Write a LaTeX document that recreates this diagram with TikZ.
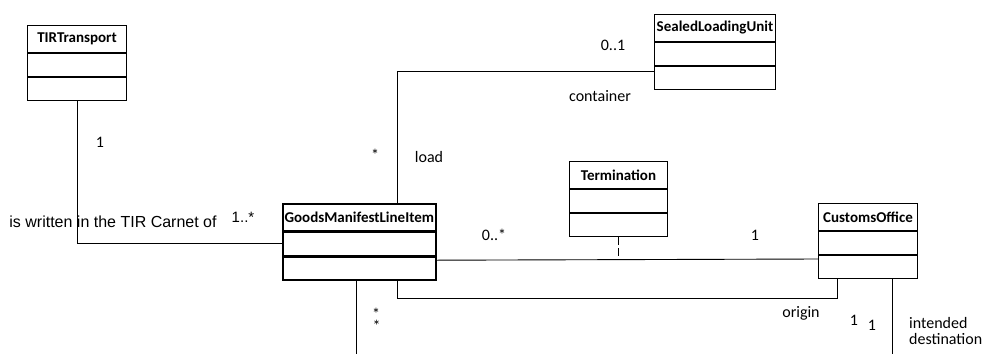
\documentclass[tikz,border=0pt]{standalone}
\usepackage{fontspec}
\setmainfont{Carlito}
\newfontfamily\arialfont{Liberation Sans}
\usetikzlibrary{positioning}

\begin{document}
\begin{tikzpicture}[x=1pt, y=-1pt,
                    umlhead/.style={draw, line width=1pt, minimum width=#1, minimum height=27pt,
                                    inner sep=0pt, anchor=north west, font=\fontsize{15}{18}\selectfont\bfseries},
                    umlpart/.style={draw, line width=1pt, minimum width=#1, minimum height=23pt, inner sep=0pt},
                    heavy/.style={line width=1.6pt},
                    role/.style={inner sep=0pt, font=\fontsize{16}{19}\selectfont},
                    assoc/.style={line width=0.9pt}]
  \useasboundingbox (0,0) rectangle (983,354);
  % classes
  \node[umlhead=99pt] (tir) at (27,25) {TIRTransport};
  \node[umlpart=99pt, below=0pt of tir] (tir1) {};
  \node[umlpart=99pt, below=0pt of tir1] (tir2) {};

  \node[umlhead=121pt] (slu) at (654,14) {SealedLoadingUnit};
  \node[umlpart=121pt, below=0pt of slu] (slu1) {};
  \node[umlpart=121pt, below=0pt of slu1] (slu2) {};

  \node[umlhead=98pt] (term) at (569,161) {Termination};
  \node[umlpart=98pt, below=0pt of term] (term1) {};
  \node[umlpart=98pt, below=0pt of term1] (term2) {};

  \node[umlhead=153pt, heavy] (gml) at (282,203) {GoodsManifestLineItem};
  \node[umlpart=153pt, heavy, below=0pt of gml] (gml1) {};
  \node[umlpart=153pt, heavy, below=0pt of gml1] (gml2) {};

  \node[umlhead=99pt] (co) at (818,203) {CustomsOffice};
  \node[umlpart=99pt, below=0pt of co] (co1) {};
  \node[umlpart=99pt, below=0pt of co1] (co2) {};

  % associations
  \coordinate (gmlout) at (356,354);
  \coordinate (coout) at (892,354);
  \coordinate (main1) at ([yshift=-4pt]gml1.south east);
  \coordinate (main2) at ([yshift=-4pt]co1.south west);

  \draw[assoc] (tir2.south) |- (gml1.west);
  \draw[assoc] ([xshift=115pt]gml.north west) |- ([yshift=-5pt]slu1.south west);
  \draw[assoc] (main1) -- (main2);
  \draw[assoc, line width=1.4pt, dash pattern=on 8pt off 3pt] (term2.south) -- (term2.south |- main1);
  \draw[assoc] ([xshift=115pt]gml2.south west) -- ++(0,18) -| ([xshift=19pt]co2.south west);
  \draw[assoc] (gml2.south -| gmlout) -- (gmlout);
  \draw[assoc] (co2.south -| coout) -- (coout);

  % labels
  \node[role] (m1) at (100,142) {1};
  \node[role, font=\fontsize{16}{19}\selectfont\arialfont] (written) at (113,222) {is written in the TIR Carnet of};
  \node[role, font=\fontsize{15}{18}\selectfont\arialfont] (m2) at (243,217) {1..*};
  \node[role] (m3) at (375,155) {*};
  \node[role] (load) at (429,157) {load};
  \node[role] (m4) at (613,45) {0..1};
  \node[role] (container) at (600,96) {container};
  \node[role] (m5) at (494,235) {0..*};
  \node[role] (m6) at (755,235) {1};
  \node[role] (origin) at (801,313) {origin};
  \node[role] (m7) at (854,320) {1};
  \node[role] (m8) at (872,325) {1};
  \node[role, align=center, font=\fontsize{16}{8}\selectfont] (m9) at (376,320) {*\\\hspace*{1pt}*};
  \node[role, align=left, anchor=north west, font=\fontsize{16}{16}\selectfont] (dest) at (909,317) {intended\\destination};
\end{tikzpicture}
\end{document}
